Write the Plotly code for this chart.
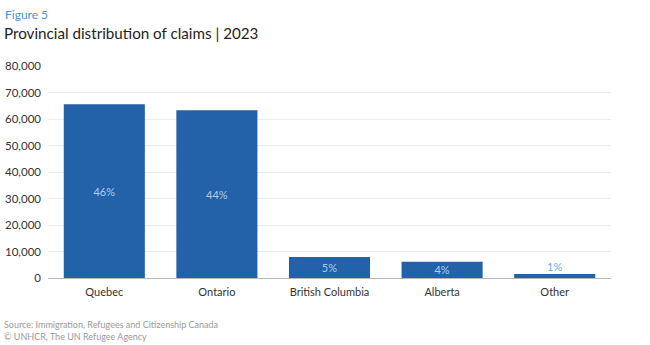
import plotly.graph_objects as go

categories = ["Quebec", "Ontario", "British Columbia", "Alberta", "Other"]
claims = [65600, 63300, 7900, 6100, 1500]
shares = ["46%", "44%", "5%", "4%", "1%"]
y_ticks = [0, 10000, 20000, 30000, 40000, 50000, 60000, 70000, 80000]
y_tick_labels = ["0", "10,000", "20,000", "30,000", "40,000", "50,000", "60,000", "70,000", "80,000"]

FONT = "Lato"
BAR = "#2361a9"
LABEL = "#a9cff2"

fig = go.Figure()
fig.add_trace(go.Bar(
    x=categories, y=claims,
    marker=dict(color=BAR, line=dict(width=0)),
    text=shares[:4] + [""],
    textposition="inside", insidetextanchor="middle",
    constraintext="none",
    textfont=dict(family=FONT, size=11, color=LABEL),
    hoverinfo="skip",
))
# label for the thin "Other" bar sits just above it
fig.add_trace(go.Scatter(
    x=[categories[4]], y=[claims[4]], mode="text",
    text=[shares[4]], textposition="top center",
    textfont=dict(family=FONT, size=11, color="#6aaee6"),
    hoverinfo="skip", showlegend=False,
))

fig.update_layout(
    width=650, height=345,
    margin=dict(l=48, r=39, t=66, b=66.5, autoexpand=False),
    paper_bgcolor="white", plot_bgcolor="white",
    showlegend=False, bargap=0.28,
    font=dict(family=FONT, color="#333333"),
    xaxis=dict(showgrid=False, showline=True, linecolor="#b8b8b8", linewidth=1,
               ticks="", automargin=False, ticklabelstandoff=4,
               tickfont=dict(family=FONT, size=11, color="#333333")),
    yaxis=dict(range=[0, 80000], tickvals=y_ticks, ticktext=y_tick_labels,
               showgrid=True, gridcolor="#ececec", gridwidth=1, zeroline=False,
               ticks="", ticklabelstandoff=6, automargin=False,
               tickfont=dict(family=FONT, size=11.5, color="#333333")),
)

fig.add_annotation(text="Figure 5", xref="paper", yref="paper", x=0, y=0,
                   xanchor="left", yanchor="middle", showarrow=False,
                   font=dict(family=FONT, size=12, color="#3f93d3"))
fig.add_annotation(text="Provincial distribution of claims | 2023", xref="paper", yref="paper",
                   xanchor="left", yanchor="middle", showarrow=False,
                   font=dict(family=FONT, size=15.2, color="#222222"))
fig.add_annotation(text="Source: Immigration, Refugees and Citizenship Canada", xref="paper", yref="paper",
                   xanchor="left", yanchor="middle", showarrow=False,
                   font=dict(family=FONT, size=9, color="#9a9a9a"))
fig.add_annotation(text="© UNHCR, The UN Refugee Agency", xref="paper", yref="paper",
                   xanchor="left", yanchor="middle", showarrow=False,
                   font=dict(family=FONT, size=9, color="#9a9a9a"))

# position header/footer annotations in pixel terms relative to the plot area
plot_h, plot_left, plot_w = 345 - 66 - 66.5, 48, 650 - 48 - 39
def px_to_paper(xpx, ypx):
    return (xpx - plot_left) / plot_w, (345 - 66.5 - ypx) / plot_h

positions = [(3, 14), (2, 33), (2, 325), (2, 337)]
for ann, (xp, yp) in zip(fig.layout.annotations, positions):
    ax, ay = px_to_paper(xp, yp)
    ann.x = ax
    ann.y = ay

fig.write_html("out.html")
